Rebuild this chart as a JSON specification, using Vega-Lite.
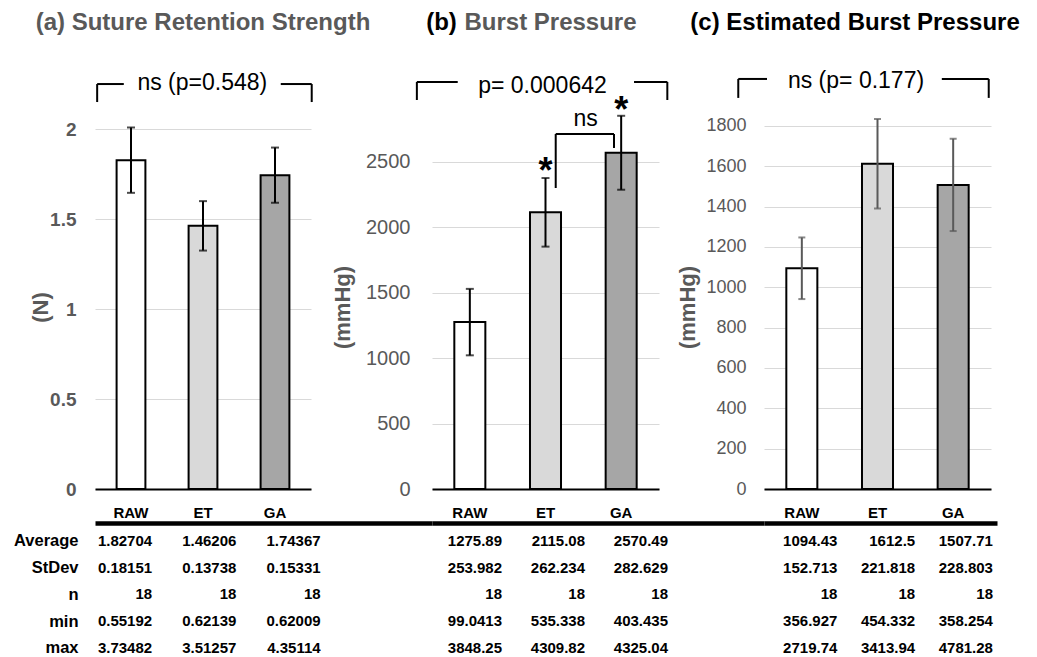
{
  "$schema": "https://vega.github.io/schema/vega-lite/v6.json",
  "padding": {"left": 13, "top": 10, "right": 5, "bottom": 0},
  "background": "white",
  "config": {"font": "Liberation Sans", "view": {"stroke": null}},
  "datasets": {
    "stats": [
      {"panel": "a", "group": "RAW", "stat": "Average", "value": 1.82704},
      {"panel": "a", "group": "RAW", "stat": "StDev", "value": 0.18151},
      {"panel": "a", "group": "RAW", "stat": "n", "value": 18},
      {"panel": "a", "group": "RAW", "stat": "min", "value": 0.55192},
      {"panel": "a", "group": "RAW", "stat": "max", "value": 3.73482},
      {"panel": "a", "group": "ET", "stat": "Average", "value": 1.46206},
      {"panel": "a", "group": "ET", "stat": "StDev", "value": 0.13738},
      {"panel": "a", "group": "ET", "stat": "n", "value": 18},
      {"panel": "a", "group": "ET", "stat": "min", "value": 0.62139},
      {"panel": "a", "group": "ET", "stat": "max", "value": 3.51257},
      {"panel": "a", "group": "GA", "stat": "Average", "value": 1.74367},
      {"panel": "a", "group": "GA", "stat": "StDev", "value": 0.15331},
      {"panel": "a", "group": "GA", "stat": "n", "value": 18},
      {"panel": "a", "group": "GA", "stat": "min", "value": 0.62009},
      {"panel": "a", "group": "GA", "stat": "max", "value": 4.35114},
      {"panel": "b", "group": "RAW", "stat": "Average", "value": 1275.89},
      {"panel": "b", "group": "RAW", "stat": "StDev", "value": 253.982},
      {"panel": "b", "group": "RAW", "stat": "n", "value": 18},
      {"panel": "b", "group": "RAW", "stat": "min", "value": 99.0413},
      {"panel": "b", "group": "RAW", "stat": "max", "value": 3848.25},
      {"panel": "b", "group": "ET", "stat": "Average", "value": 2115.08},
      {"panel": "b", "group": "ET", "stat": "StDev", "value": 262.234},
      {"panel": "b", "group": "ET", "stat": "n", "value": 18},
      {"panel": "b", "group": "ET", "stat": "min", "value": 535.338},
      {"panel": "b", "group": "ET", "stat": "max", "value": 4309.82},
      {"panel": "b", "group": "GA", "stat": "Average", "value": 2570.49},
      {"panel": "b", "group": "GA", "stat": "StDev", "value": 282.629},
      {"panel": "b", "group": "GA", "stat": "n", "value": 18},
      {"panel": "b", "group": "GA", "stat": "min", "value": 403.435},
      {"panel": "b", "group": "GA", "stat": "max", "value": 4325.04},
      {"panel": "c", "group": "RAW", "stat": "Average", "value": 1094.43},
      {"panel": "c", "group": "RAW", "stat": "StDev", "value": 152.713},
      {"panel": "c", "group": "RAW", "stat": "n", "value": 18},
      {"panel": "c", "group": "RAW", "stat": "min", "value": 356.927},
      {"panel": "c", "group": "RAW", "stat": "max", "value": 2719.74},
      {"panel": "c", "group": "ET", "stat": "Average", "value": 1612.5},
      {"panel": "c", "group": "ET", "stat": "StDev", "value": 221.818},
      {"panel": "c", "group": "ET", "stat": "n", "value": 18},
      {"panel": "c", "group": "ET", "stat": "min", "value": 454.332},
      {"panel": "c", "group": "ET", "stat": "max", "value": 3413.94},
      {"panel": "c", "group": "GA", "stat": "Average", "value": 1507.71},
      {"panel": "c", "group": "GA", "stat": "StDev", "value": 228.803},
      {"panel": "c", "group": "GA", "stat": "n", "value": 18},
      {"panel": "c", "group": "GA", "stat": "min", "value": 358.254},
      {"panel": "c", "group": "GA", "stat": "max", "value": 4781.28}
    ],
    "segs": [
      {"panel": "a", "x": -0.47, "x2": -0.47, "y": 2.15, "y2": 2.25},
      {"panel": "a", "x": -0.47, "x2": -0.1, "y": 2.25, "y2": 2.25},
      {"panel": "a", "x": 2.08, "x2": 2.51, "y": 2.25, "y2": 2.25},
      {"panel": "a", "x": 2.51, "x2": 2.51, "y": 2.25, "y2": 2.15},
      {"panel": "b", "x": -0.7, "x2": -0.7, "y": 2974, "y2": 3112},
      {"panel": "b", "x": -0.7, "x2": -0.16, "y": 3112, "y2": 3112},
      {"panel": "b", "x": 2.17, "x2": 2.61, "y": 3112, "y2": 3112},
      {"panel": "b", "x": 2.61, "x2": 2.61, "y": 3112, "y2": 2974},
      {"panel": "b", "x": 1.135, "x2": 1.135, "y": 2301, "y2": 2714},
      {"panel": "b", "x": 1.135, "x2": 1.905, "y": 2714, "y2": 2714},
      {"panel": "b", "x": 1.905, "x2": 1.905, "y": 2714, "y2": 2607},
      {"panel": "c", "x": -0.84, "x2": -0.84, "y": 1939, "y2": 2033},
      {"panel": "c", "x": -0.84, "x2": -0.46, "y": 2033, "y2": 2033},
      {"panel": "c", "x": 1.85, "x2": 2.47, "y": 2033, "y2": 2033},
      {"panel": "c", "x": 2.47, "x2": 2.47, "y": 2033, "y2": 1939}
    ],
    "notes": [
      {"panel": "a", "kind": "p", "x": 0.99, "y": 2.256, "text": "ns (p=0.548)"},
      {"panel": "a", "kind": "tgray", "x": 1.0, "y": 2.589, "text": "(a) Suture Retention Strength"},
      {"panel": "b", "kind": "p", "x": 0.96, "y": 3081, "text": "p= 0.000642"},
      {"panel": "b", "kind": "p", "x": 1.53, "y": 2829, "text": "ns"},
      {"panel": "b", "kind": "star", "x": 1, "y": 2424, "text": "*"},
      {"panel": "b", "kind": "star", "x": 2, "y": 2890, "text": "*"},
      {"panel": "b", "kind": "tblack", "x": -0.374, "y": 3563, "text": "(b)"},
      {"panel": "b", "kind": "tgray", "x": 1.066, "y": 3563, "text": "Burst Pressure"},
      {"panel": "c", "kind": "p", "x": 0.716, "y": 2023, "text": "ns (p= 0.177)"},
      {"panel": "c", "kind": "tblack", "x": 0.703, "y": 2311, "text": "(c) Estimated Burst Pressure"}
    ]
  },
  "concat": [
    {
      "width": 216, "height": 428,
      "layer": [
        {
          "data": {"name": "stats"},
          "transform": [{"filter": "datum.panel === 'a'"}, {"pivot": "stat", "value": "value", "groupby": ["panel", "group"]}],
          "layer": [
            {
              "mark": {"type": "bar", "stroke": "black", "strokeWidth": 2},
              "encoding": {
                "x": {"field": "group", "type": "nominal", "title": null, "scale": {"domain": ["RAW", "ET", "GA"], "paddingInner": 0.6, "paddingOuter": 0.3},
                      "axis": {"labelAngle": 0, "ticks": false, "domainColor": "black", "domainWidth": 2, "labelFontSize": 15, "labelFontWeight": "bold", "labelColor": "black", "labelPadding": 16, "grid": false}},
                "y": {"field": "Average", "type": "quantitative", "title": "(N)", "scale": {"domain": [0, 2.378], "nice": false},
                      "axis": {"values": [0, 0.5, 1, 1.5, 2], "format": "~g", "grid": true, "gridColor": "#d9d9d9", "domain": false, "ticks": false, "labelFontSize": 19, "labelFontWeight": "bold", "labelColor": "#595959", "labelPadding": 19, "titleFontSize": 22, "titleFontWeight": "bold", "titleColor": "#595959", "titleX": -55, "titleY": 246, "titleAngle": 270, "titleBaseline": "middle", "titleAlign": "center"}},
                "fill": {"field": "group", "type": "nominal", "scale": {"domain": ["RAW", "ET", "GA"], "range": ["#ffffff", "#d9d9d9", "#a6a6a6"]}, "legend": null}
              }
            },
            {
              "mark": {"type": "errorbar", "ticks": true, "size": 8, "thickness": 2, "color": "black"},
              "encoding": {
                "x": {"field": "group", "type": "nominal", "title": null},
                "y": {"field": "Average", "type": "quantitative", "title": "(N)"},
                "yError": {"field": "StDev"}
              }
            }
          ]
        },
        {
          "data": {"name": "segs"},
          "transform": [{"filter": "datum.panel === 'a'"}],
          "mark": {"type": "rule", "strokeWidth": 2, "color": "black"},
          "encoding": {
            "x": {"field": "x", "type": "quantitative", "scale": {"domain": [-0.5, 2.5], "nice": false, "zero": false}, "axis": null},
            "x2": {"field": "x2"},
            "y": {"field": "y", "type": "quantitative", "title": "(N)", "scale": {"domain": [0, 2.378], "nice": false}},
            "y2": {"field": "y2"}
          }
        },
        {
          "data": {"name": "notes"},
          "transform": [{"filter": "datum.panel === 'a' && datum.kind === 'p'"}],
          "mark": {"type": "text", "fontSize": 23, "baseline": "middle", "color": "black"},
          "encoding": {
            "x": {"field": "x", "type": "quantitative", "scale": {"domain": [-0.5, 2.5], "nice": false, "zero": false}, "axis": null},
            "y": {"field": "y", "type": "quantitative", "title": "(N)", "scale": {"domain": [0, 2.378], "nice": false}},
            "text": {"field": "text"}
          }
        },
        {
          "data": {"name": "notes"},
          "transform": [{"filter": "datum.panel === 'a' && datum.kind === 'tgray'"}],
          "mark": {"type": "text", "fontSize": 24, "fontWeight": "bold", "baseline": "middle", "color": "#595959"},
          "encoding": {
            "x": {"field": "x", "type": "quantitative", "scale": {"domain": [-0.5, 2.5], "nice": false, "zero": false}, "axis": null},
            "y": {"field": "y", "type": "quantitative", "title": "(N)", "scale": {"domain": [0, 2.378], "nice": false}},
            "text": {"field": "text"}
          }
        }
      ],
      "resolve": {"scale": {"x": "independent"}}
    },
    {
      "width": 227, "height": 428,
      "layer": [
        {
          "data": {"name": "stats"},
          "transform": [{"filter": "datum.panel === 'b'"}, {"pivot": "stat", "value": "value", "groupby": ["panel", "group"]}],
          "layer": [
            {
              "mark": {"type": "bar", "stroke": "black", "strokeWidth": 2},
              "encoding": {
                "x": {"field": "group", "type": "nominal", "title": null, "scale": {"domain": ["RAW", "ET", "GA"], "paddingInner": 0.59, "paddingOuter": 0.295},
                      "axis": {"labelAngle": 0, "ticks": false, "domainColor": "black", "domainWidth": 2, "labelFontSize": 15, "labelFontWeight": "bold", "labelColor": "black", "labelPadding": 16, "grid": false}},
                "y": {"field": "Average", "type": "quantitative", "title": "(mmHg)", "scale": {"domain": [0, 3272], "nice": false},
                      "axis": {"values": [0, 500, 1000, 1500, 2000, 2500], "format": "d", "grid": true, "gridColor": "#d9d9d9", "domain": false, "ticks": false, "labelFontSize": 20, "labelColor": "#595959", "labelPadding": 22, "titleFontSize": 22, "titleFontWeight": "bold", "titleColor": "#595959", "titleX": -90, "titleY": 246, "titleAngle": 270, "titleBaseline": "middle", "titleAlign": "center"}},
                "fill": {"field": "group", "type": "nominal", "scale": {"domain": ["RAW", "ET", "GA"], "range": ["#ffffff", "#d9d9d9", "#a6a6a6"]}, "legend": null}
              }
            },
            {
              "mark": {"type": "errorbar", "ticks": true, "size": 8, "thickness": 2, "color": "black"},
              "encoding": {
                "x": {"field": "group", "type": "nominal", "title": null},
                "y": {"field": "Average", "type": "quantitative", "title": "(mmHg)"},
                "yError": {"field": "StDev"}
              }
            }
          ]
        },
        {
          "data": {"name": "segs"},
          "transform": [{"filter": "datum.panel === 'b'"}],
          "mark": {"type": "rule", "strokeWidth": 2, "color": "black"},
          "encoding": {
            "x": {"field": "x", "type": "quantitative", "scale": {"domain": [-0.5, 2.5], "nice": false, "zero": false}, "axis": null},
            "x2": {"field": "x2"},
            "y": {"field": "y", "type": "quantitative", "title": "(mmHg)", "scale": {"domain": [0, 3272], "nice": false}},
            "y2": {"field": "y2"}
          }
        },
        {
          "data": {"name": "notes"},
          "transform": [{"filter": "datum.panel === 'b' && datum.kind === 'p'"}],
          "mark": {"type": "text", "fontSize": 23, "baseline": "middle", "color": "black"},
          "encoding": {
            "x": {"field": "x", "type": "quantitative", "scale": {"domain": [-0.5, 2.5], "nice": false, "zero": false}, "axis": null},
            "y": {"field": "y", "type": "quantitative", "title": "(mmHg)", "scale": {"domain": [0, 3272], "nice": false}},
            "text": {"field": "text"}
          }
        },
        {
          "data": {"name": "notes"},
          "transform": [{"filter": "datum.panel === 'b' && datum.kind === 'star'"}],
          "mark": {"type": "text", "fontSize": 36, "fontWeight": "bold", "baseline": "middle", "color": "black"},
          "encoding": {
            "x": {"field": "x", "type": "quantitative", "scale": {"domain": [-0.5, 2.5], "nice": false, "zero": false}, "axis": null},
            "y": {"field": "y", "type": "quantitative", "title": "(mmHg)", "scale": {"domain": [0, 3272], "nice": false}},
            "text": {"field": "text"}
          }
        },
        {
          "data": {"name": "notes"},
          "transform": [{"filter": "datum.panel === 'b' && datum.kind === 'tblack'"}],
          "mark": {"type": "text", "fontSize": 24, "fontWeight": "bold", "baseline": "middle", "color": "black"},
          "encoding": {
            "x": {"field": "x", "type": "quantitative", "scale": {"domain": [-0.5, 2.5], "nice": false, "zero": false}, "axis": null},
            "y": {"field": "y", "type": "quantitative", "title": "(mmHg)", "scale": {"domain": [0, 3272], "nice": false}},
            "text": {"field": "text"}
          }
        },
        {
          "data": {"name": "notes"},
          "transform": [{"filter": "datum.panel === 'b' && datum.kind === 'tgray'"}],
          "mark": {"type": "text", "fontSize": 24, "fontWeight": "bold", "baseline": "middle", "color": "#595959"},
          "encoding": {
            "x": {"field": "x", "type": "quantitative", "scale": {"domain": [-0.5, 2.5], "nice": false, "zero": false}, "axis": null},
            "y": {"field": "y", "type": "quantitative", "title": "(mmHg)", "scale": {"domain": [0, 3272], "nice": false}},
            "text": {"field": "text"}
          }
        }
      ],
      "resolve": {"scale": {"x": "independent"}}
    },
    {
      "width": 227, "height": 428,
      "layer": [
        {
          "data": {"name": "stats"},
          "transform": [{"filter": "datum.panel === 'c'"}, {"pivot": "stat", "value": "value", "groupby": ["panel", "group"]}],
          "layer": [
            {
              "mark": {"type": "bar", "stroke": "black", "strokeWidth": 2},
              "encoding": {
                "x": {"field": "group", "type": "nominal", "title": null, "scale": {"domain": ["RAW", "ET", "GA"], "paddingInner": 0.59, "paddingOuter": 0.295},
                      "axis": {"labelAngle": 0, "ticks": false, "domainColor": "black", "domainWidth": 2, "labelFontSize": 15, "labelFontWeight": "bold", "labelColor": "black", "labelPadding": 16, "grid": false}},
                "y": {"field": "Average", "type": "quantitative", "title": "(mmHg)", "scale": {"domain": [0, 2122], "nice": false},
                      "axis": {"values": [0, 200, 400, 600, 800, 1000, 1200, 1400, 1600, 1800], "format": "d", "grid": true, "gridColor": "#d9d9d9", "domain": false, "ticks": false, "labelFontSize": 18, "labelColor": "#595959", "labelPadding": 18, "titleFontSize": 22, "titleFontWeight": "bold", "titleColor": "#595959", "titleX": -77, "titleY": 246, "titleAngle": 270, "titleBaseline": "middle", "titleAlign": "center"}},
                "fill": {"field": "group", "type": "nominal", "scale": {"domain": ["RAW", "ET", "GA"], "range": ["#ffffff", "#d9d9d9", "#a6a6a6"]}, "legend": null}
              }
            },
            {
              "mark": {"type": "errorbar", "ticks": true, "size": 7, "thickness": 2, "color": "#595959"},
              "encoding": {
                "x": {"field": "group", "type": "nominal", "title": null},
                "y": {"field": "Average", "type": "quantitative", "title": "(mmHg)"},
                "yError": {"field": "StDev"}
              }
            }
          ]
        },
        {
          "data": {"name": "segs"},
          "transform": [{"filter": "datum.panel === 'c'"}],
          "mark": {"type": "rule", "strokeWidth": 2, "color": "black"},
          "encoding": {
            "x": {"field": "x", "type": "quantitative", "scale": {"domain": [-0.5, 2.5], "nice": false, "zero": false}, "axis": null},
            "x2": {"field": "x2"},
            "y": {"field": "y", "type": "quantitative", "title": "(mmHg)", "scale": {"domain": [0, 2122], "nice": false}},
            "y2": {"field": "y2"}
          }
        },
        {
          "data": {"name": "notes"},
          "transform": [{"filter": "datum.panel === 'c' && datum.kind === 'p'"}],
          "mark": {"type": "text", "fontSize": 23, "baseline": "middle", "color": "black"},
          "encoding": {
            "x": {"field": "x", "type": "quantitative", "scale": {"domain": [-0.5, 2.5], "nice": false, "zero": false}, "axis": null},
            "y": {"field": "y", "type": "quantitative", "title": "(mmHg)", "scale": {"domain": [0, 2122], "nice": false}},
            "text": {"field": "text"}
          }
        },
        {
          "data": {"name": "notes"},
          "transform": [{"filter": "datum.panel === 'c' && datum.kind === 'tblack'"}],
          "mark": {"type": "text", "fontSize": 24, "fontWeight": "bold", "baseline": "middle", "color": "black"},
          "encoding": {
            "x": {"field": "x", "type": "quantitative", "scale": {"domain": [-0.5, 2.5], "nice": false, "zero": false}, "axis": null},
            "y": {"field": "y", "type": "quantitative", "title": "(mmHg)", "scale": {"domain": [0, 2122], "nice": false}},
            "text": {"field": "text"}
          }
        }
      ],
      "resolve": {"scale": {"x": "independent"}}
    },
    {
      "width": 337, "height": 128,
      "data": {"name": "stats"},
      "transform": [{"filter": "datum.panel === 'a'"}],
      "mark": {"type": "text", "align": "right", "baseline": "middle", "fontSize": 15, "fontWeight": "bold", "color": "black"},
      "encoding": {
        "x": {"field": "group", "type": "nominal", "scale": {"type": "point", "domain": ["RAW", "ET", "GA"], "padding": 1.16, "align": 0.339},
              "axis": {"orient": "top", "title": null, "labels": false, "ticks": false, "grid": false, "domain": true, "domainColor": "black", "domainWidth": 4.5}},
        "y": {"field": "stat", "type": "nominal", "scale": {"type": "point", "domain": ["Average", "StDev", "n", "min", "max"], "padding": 0.3925, "align": 0.857},
              "axis": {"title": null, "ticks": false, "domain": false, "grid": false, "labelFontSize": 16.5, "labelFontWeight": "bold", "labelColor": "black", "labelPadding": 17}},
        "text": {"field": "value", "type": "quantitative", "format": "~g"}
      }
    },
    {
      "width": 332, "height": 128,
      "data": {"name": "stats"},
      "transform": [{"filter": "datum.panel === 'b'"}],
      "mark": {"type": "text", "align": "right", "baseline": "middle", "fontSize": 15, "fontWeight": "bold", "color": "black"},
      "encoding": {
        "x": {"field": "group", "type": "nominal", "scale": {"type": "point", "domain": ["RAW", "ET", "GA"], "padding": 1.128, "align": 0.422},
              "axis": {"orient": "top", "title": null, "labels": false, "ticks": false, "grid": false, "domain": true, "domainColor": "black", "domainWidth": 4.5}},
        "y": {"field": "stat", "type": "nominal", "scale": {"type": "point", "domain": ["Average", "StDev", "n", "min", "max"], "padding": 0.3925, "align": 0.857}, "axis": null},
        "text": {"field": "value", "type": "quantitative", "format": "~g"}
      }
    },
    {
      "width": 233, "height": 128,
      "data": {"name": "stats"},
      "transform": [{"filter": "datum.panel === 'c'"}],
      "mark": {"type": "text", "align": "right", "baseline": "middle", "fontSize": 15, "fontWeight": "bold", "color": "black"},
      "encoding": {
        "x": {"field": "group", "type": "nominal", "scale": {"type": "point", "domain": ["RAW", "ET", "GA"], "padding": 0.497, "align": 0.948},
              "axis": {"orient": "top", "title": null, "labels": false, "ticks": false, "grid": false, "domain": true, "domainColor": "black", "domainWidth": 4.5}},
        "y": {"field": "stat", "type": "nominal", "scale": {"type": "point", "domain": ["Average", "StDev", "n", "min", "max"], "padding": 0.3925, "align": 0.857}, "axis": null},
        "text": {"field": "value", "type": "quantitative", "format": "~g"}
      }
    }
  ],
  "columns": 3,
  "spacing": {"row": 34, "column": 0},
  "bounds": "flush",
  "align": "each"
}
